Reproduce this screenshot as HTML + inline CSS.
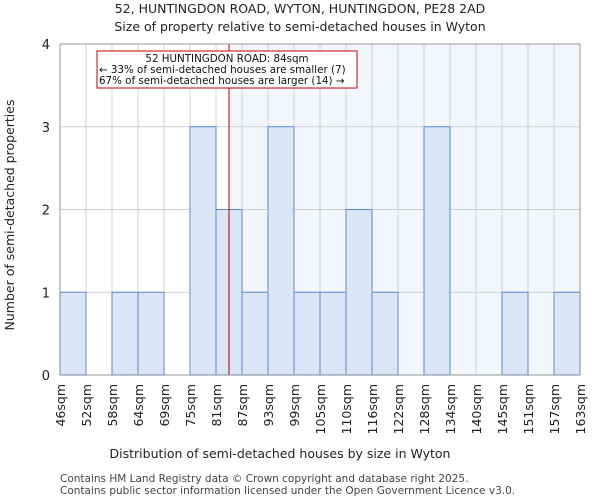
<!DOCTYPE html>
<html><head><meta charset="utf-8"><style>
html,body{margin:0;padding:0;background:#fff;}
svg{display:block;font-family:"DejaVu Sans","Liberation Sans",sans-serif;}
</style></head><body>
<svg id="chart" width="600" height="500">
<text x="300" y="13" text-anchor="middle" font-size="12.5" fill="#222">52, HUNTINGDON ROAD, WYTON, HUNTINGDON, PE28 2AD</text>
<text x="300" y="31" text-anchor="middle" font-size="12.5" fill="#222">Size of property relative to semi-detached houses in Wyton</text>
<g id="plot"></g>
<text x="280" y="458" text-anchor="middle" font-size="12.5" fill="#222">Distribution of semi-detached houses by size in Wyton</text>
<text transform="translate(14,215) rotate(-90)" text-anchor="middle" font-size="12.5" fill="#222">Number of semi-detached properties</text>
<text x="60" y="482" font-size="10.5" fill="#444">Contains HM Land Registry data © Crown copyright and database right 2025.</text>
<text x="60" y="494" font-size="10.5" fill="#444">Contains public sector information licensed under the Open Government Licence v3.0.</text>
</svg>
<script>
const edges=[46,52,58,64,69,75,81,87,93,99,105,110,116,122,128,134,140,145,151,157,163];
const counts=[1,0,1,1,0,3,2,1,3,1,1,2,1,0,3,0,0,1,0,1];
const yTicks=[0,1,2,3,4];
const markerValue=84;
const NS="http://www.w3.org/2000/svg";
const L=60,R=580,T=44,B=375,yMax=4;
const bw=(R-L)/counts.length;
const xi=i=>L+i*bw;
function xv(v){for(let i=0;i<edges.length-1;i++){if(v>=edges[i]&&v<=edges[i+1])return xi(i+(v-edges[i])/(edges[i+1]-edges[i]));}return v<edges[0]?L:R;}
const y=v=>B-(v/yMax)*(B-T);
const g=document.getElementById('plot');
function mk(t,a){const e=document.createElementNS(NS,t);for(const k in a)e.setAttribute(k,a[k]);g.appendChild(e);return e;}
const mx=xv(markerValue);
let e=mk('rect',{x:mx,y:T,width:R-mx,height:B-T,fill:'#f3f7fd'});


edges.forEach((v,i)=>{const l=mk('line',{x1:xi(i),x2:xi(i),y1:T,y2:B,stroke:'#d0d0d0','stroke-width':1});

});
yTicks.forEach(t=>{const l=mk('line',{x1:L,x2:R,y1:y(t),y2:y(t),stroke:'#d0d0d0','stroke-width':1});


const tx=mk('text',{x:L-10,y:y(t)+5,'text-anchor':'end','font-size':13,fill:'#222'});tx.textContent=t;

});
counts.forEach((c,i)=>{if(c<=0)return;const b=mk('rect',{x:xi(i),y:y(c),width:bw,height:B-y(c),fill:'#dae5f5',stroke:'#5b8ad6','stroke-width':1});

});
edges.forEach((v,i)=>{const tx=mk('text',{transform:`translate(${xi(i)+5},384) rotate(-90)`,'text-anchor':'end','font-size':12.5,fill:'#222'});tx.textContent=v+'sqm';

});
e=mk('line',{x1:mx,x2:mx,y1:T,y2:B,stroke:'#b00000','stroke-width':1});


e=mk('rect',{x:97,y:51,width:260,height:37,fill:'#fff',stroke:'#c00000','stroke-width':1});


[['52 HUNTINGDON ROAD: 84sqm',62,'middle',227],['← 33% of semi-detached houses are smaller (7)',73,'start',99],['67% of semi-detached houses are larger (14) →',84,'start',99]].forEach(a=>{
const tx=mk('text',{x:a[3],y:a[1],'text-anchor':a[2],'font-size':10.3,fill:'#111'});tx.textContent=a[0];

});
e=mk('rect',{x:L,y:T,width:R-L,height:B-T,fill:'none',stroke:'#888','stroke-width':0.8});


</script>
</body></html>
